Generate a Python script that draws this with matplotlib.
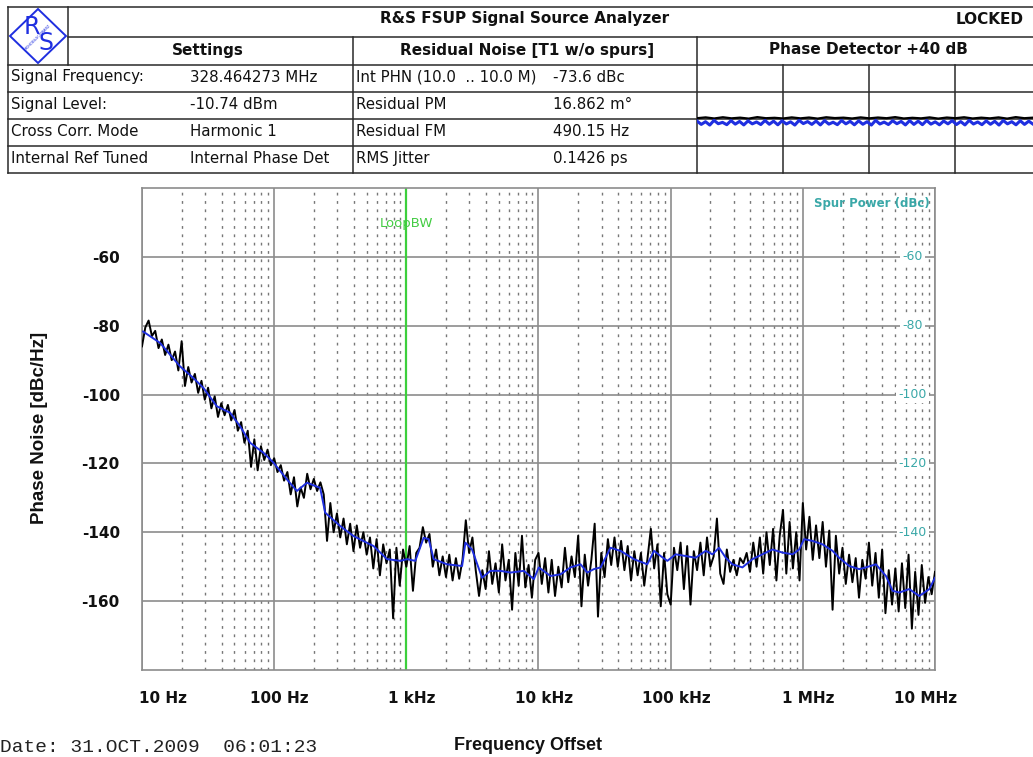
import numpy as np
import matplotlib
matplotlib.use("Agg")
import matplotlib.pyplot as plt
from matplotlib.transforms import ScaledTranslation, blended_transform_factory
from matplotlib.patches import Polygon
from matplotlib.ticker import NullLocator, NullFormatter, LogLocator

# ---------------- data ----------------
sweep_start_hz = 10
sweep_stop_hz = 1e7

# raw phase noise trace (black), one value per sweep point, 40 points / decade
black_db = [
    -86, -80.5, -78.5, -83, -81.5, -86.5, -84, -88.5, -85.5, -90, -87.5, -93, -84.5, -97.5, -92, -96.5, -94, -99.5, -96, -101.5,
    -98, -104, -100.5, -106.5, -102.5, -106, -103, -107.5, -104.5, -110.5, -108, -114, -110.5, -121, -113, -122, -115, -119, -116, -120.5,
    -118.5, -122.5, -120.5, -125, -122.5, -129, -124, -132.5, -127, -130, -123, -127.5, -124.5, -128, -125.5, -129, -142.5, -131.5, -140, -134.5,
    -141.5, -136, -143.5, -137.5, -145.5, -138, -144.5, -140, -146.5, -141.5, -150.5, -142, -152.5, -143.5, -149, -145, -165, -144.5, -155.5, -145,
    -150, -144, -157, -146, -144.5, -138.5, -143, -140.5, -150, -145, -152.5, -147, -153, -146.5, -154, -147.5, -153.5, -148, -136.5, -146,
    -141.5, -151, -158.5, -151, -156.5, -145.5, -155, -149, -157.5, -143.5, -154, -148, -162.5, -146, -155.5, -141, -156, -149.5, -159, -148,
    -146, -155, -147.5, -157.5, -148, -158.5, -150, -156, -144.5, -154.5, -147, -153, -141, -161.5, -146.5, -155.5, -148, -137.5, -164.5, -146,
    -153, -142, -149.5, -141.5, -150, -142.5, -151, -144, -154, -145.5, -152.5, -146, -155.5, -147.5, -139, -150.5, -143.5, -161.5, -146, -158,
    -161, -144.5, -151, -143, -156.5, -144, -161, -145.5, -151, -143, -152.5, -141.5, -150, -147, -136, -152, -155, -145, -151.5, -148,
    -152.5, -147.5, -149, -146, -151.5, -143, -150, -141.5, -152, -140, -149.5, -139, -154, -141, -133.5, -152, -137, -150.5, -140, -154,
    -131.5, -145, -135.5, -148, -138, -147.5, -137, -150, -139.5, -162.5, -141, -152, -144.5, -155, -146.5, -154.5, -147.5, -159, -148, -153.5,
    -143, -155.5, -146, -159, -145, -163.5, -151, -161, -150.5, -163, -149, -162, -146.5, -168, -151.5, -164, -149.5, -160.5, -153, -158,
    -151.5,
]

# smoothed trace (blue)
blue_freq = [10.2, 13.7, 19.4, 24.5, 29.2, 36.8, 46.5, 55.2, 65.8, 83.0, 98.9, 124.7, 148.6, 177.0, 222.8, 243.2,
             316.2, 399, 565, 714, 902, 1012, 1169, 1352, 1476, 1611, 2032, 2642, 2799, 3141, 3741, 4325, 5152,
             6138, 7745, 9226, 10046, 12330, 14690, 17460, 20800, 23390, 26240, 29510, 35080, 41780, 52720,
             66530, 74820, 83950, 94410, 109100, 130000, 154500, 184100, 207000, 232300, 261200, 293100, 349100,
             415900, 494300, 588800, 701500, 835600, 937600, 1023000, 1183000, 1409000, 1679000, 1884000, 2244000,
             2673000, 2999000, 3573000, 4256000, 4775000, 5370000, 6383000, 7603000, 9057000, 10000000]
blue_db = [-81.7, -85.0, -91.8, -95.2, -98.1, -103.4, -105.3, -109.2, -114.0, -116.9, -119.8, -124.6, -128.0, -125.6,
           -127.1, -134.3, -138.2, -141.1, -144.0, -147.8, -148.3, -147.8, -148.3, -141.6, -142.0, -147.8, -149.3,
           -149.8, -143.0, -145.0, -153.2, -151.2, -151.2, -151.7, -151.2, -153.6, -150.2, -152.7, -152.2, -150.2,
           -149.3, -151.7, -150.7, -150.2, -144.5, -145.4, -147.8, -149.3, -145.4, -146.9, -148.3, -146.4, -146.9,
           -147.4, -145.4, -146.4, -144.5, -147.4, -149.3, -150.2, -147.8, -146.4, -145.0, -145.9, -146.4, -145.0,
           -142.0, -142.5, -143.5, -145.4, -147.4, -149.8, -150.7, -150.2, -149.3, -152.7, -157.0, -157.5, -156.5,
           -158.5, -156.5, -153.2]

x_ticks = [10, 100, 1e3, 1e4, 1e5, 1e6, 1e7]
x_tick_labels = ["10 Hz", "100 Hz", "1 kHz", "10 kHz", "100 kHz", "1 MHz", "10 MHz"]
y_ticks = [-60, -80, -100, -120, -140, -160]
spur_ticks = [-60, -80, -100, -120, -140]
loop_bw_hz = 1000

settings_labels = ["Signal Frequency:", "Signal Level:", "Cross Corr. Mode", "Internal Ref Tuned"]
settings_values = ["328.464273 MHz", "-10.74 dBm", "Harmonic 1", "Internal Phase Det"]
residual_labels = ["Int PHN (10.0  .. 10.0 M)", "Residual PM", "Residual FM", "RMS Jitter"]
residual_values = ["-73.6 dBc", "16.862 m\u00b0", "490.15 Hz", "0.1426 ps"]

# phase-detector mini trace
pd_blue = [-0.15, -0.40, -0.20, -0.45, -0.10, -0.35, -0.25, -0.42, -0.12, -0.38, -0.18, -0.44, -0.14, -0.36,
           -0.22, -0.41, -0.11, -0.39, -0.16, -0.43, -0.13, -0.37, -0.21, -0.45, -0.10, -0.34, -0.19, -0.40,
           -0.15, -0.44, -0.12, -0.38, -0.24, -0.42, -0.11, -0.36, -0.17, -0.43, -0.14, -0.39, -0.20, -0.45,
           -0.10, -0.37, -0.23, -0.41, -0.13, -0.35, -0.18, -0.44, -0.12, -0.40, -0.16, -0.42, -0.11, -0.38,
           -0.21, -0.43, -0.15, -0.36, -0.12, -0.41, -0.19, -0.44, -0.10, -0.37, -0.22, -0.42, -0.14, -0.39,
           -0.17, -0.45, -0.11, -0.36, -0.20, -0.43, -0.13, -0.40, -0.16, -0.38]
pd_black = [0.06, 0.12, 0.04, 0.13, 0.05, 0.10, 0.03, 0.14, 0.06, 0.09, 0.04, 0.12, 0.05, 0.11, 0.03, 0.13,
            0.07, 0.10, 0.04, 0.12, 0.05, 0.11, 0.06, 0.14, 0.04, 0.09, 0.05, 0.12, 0.03, 0.11, 0.06, 0.13,
            0.04, 0.10, 0.05, 0.12, 0.03, 0.14, 0.06, 0.10]

# ---------------- figure ----------------
W, H = 1033, 757
fig = plt.figure(figsize=(W / 100, H / 100), dpi=100)
fig.patch.set_facecolor("white")

# overlay (pixel coordinates) for the header table
ov = fig.add_axes([0, 0, 1, 1], zorder=0)
ov.set_xlim(0, W)
ov.set_ylim(H, 0)
ov.axis("off")

lc = "#2a2a2a"
lw = 1.1
for y, x0, x1 in [(7, 8, W), (37, 68, W), (65, 8, W), (92, 8, W), (119, 8, W), (146, 8, W), (173, 8, W)]:
    ov.plot([x0, x1], [y, y], color=lc, lw=lw)
for x, y0, y1 in [(8, 7, 173), (68, 7, 65), (353, 37, 173), (697, 37, 173), (783, 65, 173), (869, 65, 173), (955, 65, 173)]:
    ov.plot([x, x], [y0, y1], color=lc, lw=lw)

# logo
logo_c = "#1f2fe0"
ov.add_patch(Polygon([[38, 9], [66, 36], [38, 63], [10, 36]], closed=True, fill=False, edgecolor=logo_c, lw=1.4))
ov.text(32, 27, "R", color=logo_c, fontsize=17, ha="center", va="center", family="DejaVu Sans")
ov.text(46, 43, "S", color=logo_c, fontsize=17, ha="center", va="center", family="DejaVu Sans")
ov.text(38, 37, "ROHDE&SCHWARZ", color=logo_c, fontsize=2.6, ha="center", va="center", rotation=45)

hdr = dict(fontsize=11, fontweight="bold", family="DejaVu Sans", color="#111111", va="center")
ov.text(525, 19, "R&S FSUP Signal Source Analyzer", ha="center", **hdr)
ov.text(990, 19, "LOCKED", ha="center", **hdr)
ov.text(208, 50, "Settings", ha="center", **hdr)
ov.text(527, 50, "Residual Noise [T1 w/o spurs]", ha="center", **hdr)
ov.text(868, 50, "Phase Detector +40 dB", ha="center", **hdr)

body = dict(fontsize=10.8, family="DejaVu Sans", color="#111111", va="center")
row_y = [77, 104.5, 131.5, 158.5]
for yy, a, b, c, d in zip(row_y, settings_labels, settings_values, residual_labels, residual_values):
    ov.text(11, yy, a, ha="left", **body)
    ov.text(190, yy, b, ha="left", **body)
    ov.text(356, yy, c, ha="left", **body)
    ov.text(553, yy, d, ha="left", **body)

# phase detector inset
pd_ax = fig.add_axes([697 / W, 1 - 173 / H, (W - 697) / W, 108 / H], zorder=2)
pd_ax.set_xlim(0, len(pd_blue) - 1)
pd_ax.set_ylim(-4, 4)
pd_ax.axis("off")
pd_ax.plot(np.linspace(0, len(pd_blue) - 1, len(pd_black)), pd_black, color="black", lw=1.6)
pd_ax.plot(range(len(pd_blue)), pd_blue, color="#1f2fe0", lw=2.2)

# ---------------- main plot ----------------
L, R, T, B = 142, 935, 188, 670
ax = fig.add_axes([L / W, 1 - B / H, (R - L) / W, (B - T) / H], zorder=1)
ax.set_facecolor("white")
ax.set_xscale("log")
ax.set_xlim(sweep_start_hz, sweep_stop_hz)
ax.set_ylim(-180, -40)

gc = "#8c8c8c"
ax.xaxis.set_minor_locator(LogLocator(base=10, subs=np.arange(2, 10)))
ax.xaxis.set_minor_formatter(NullFormatter())
ax.yaxis.set_minor_locator(NullLocator())
ax.set_xticks(x_ticks)
ax.set_xticklabels(x_tick_labels)
ax.set_yticks(y_ticks)
ax.set_yticklabels([str(v) for v in y_ticks])
ax.grid(which="major", axis="both", color=gc, lw=1.2, ls="-")
ax.grid(which="minor", axis="x", color="#777777", lw=1.0, ls=(0, (2, 4)))
ax.tick_params(axis="both", which="both", length=0)
ax.tick_params(axis="y", pad=16, labelsize=11)
ax.tick_params(axis="x", pad=15, labelsize=11)
for lab in ax.get_xticklabels() + ax.get_yticklabels():
    lab.set_fontweight("bold")
    lab.set_color("#111111")
for s in ax.spines.values():
    s.set_color(gc)
    s.set_linewidth(1.2)
ax.set_axisbelow(True)

xl = ax.get_xticklabels()
xl[0].set_horizontalalignment("left")
xl[0].set_transform(xl[0].get_transform() + ScaledTranslation(-2 / 72, 0, fig.dpi_scale_trans))
for lab in xl[1:-1]:
    lab.set_transform(lab.get_transform() + ScaledTranslation(4 / 72, 0, fig.dpi_scale_trans))
xl[-1].set_transform(xl[-1].get_transform() + ScaledTranslation(-7 / 72, 0, fig.dpi_scale_trans))

black_freq = np.logspace(np.log10(sweep_start_hz), np.log10(sweep_stop_hz), len(black_db))
ax.plot(black_freq, black_db, color="black", lw=1.4, zorder=3)
ax.plot(blue_freq, blue_db, color="#1f2fe0", lw=1.4, zorder=4)

# loop bandwidth marker
ax.axvline(loop_bw_hz, color="#3ccf3c", lw=1.6, zorder=2)
ax.text(loop_bw_hz, 0.927, "LoopBW", transform=blended_transform_factory(ax.transData, ax.transAxes),
        color="#44cc44", fontsize=9.5, ha="center", va="center", zorder=5)

# spur power axis
teal = "#3aa8a8"
ax.text(0.92, 0.967, "Spur Power (dBc)", transform=ax.transAxes, color=teal, fontsize=8.5,
        fontweight="bold", ha="center", va="center", zorder=5)
st = blended_transform_factory(ax.transAxes, ax.transData)
for v in spur_ticks:
    ax.text(0.972, v, str(v), transform=st, color=teal, fontsize=9, ha="center", va="center", zorder=5,
            bbox=dict(facecolor="white", edgecolor="none", pad=1.5))

# axis titles
fig.text(40 / W, 1 - 428 / H, "Phase Noise [dBc/Hz]", rotation=90, ha="center", va="center",
         fontsize=13.5, fontweight="bold", family="Liberation Sans", color="#111111")
fig.text(528 / W, 1 - 746 / H, "Frequency Offset", ha="center", va="center",
         fontsize=13, fontweight="bold", family="Liberation Sans", color="#111111")
fig.text(0 / W, 1 - 747 / H, "Date: 31.OCT.2009  06:01:23", ha="left", va="center",
         fontsize=14, family="Liberation Mono", color="#222222")

fig.savefig("out.png", dpi=100, facecolor="white")
